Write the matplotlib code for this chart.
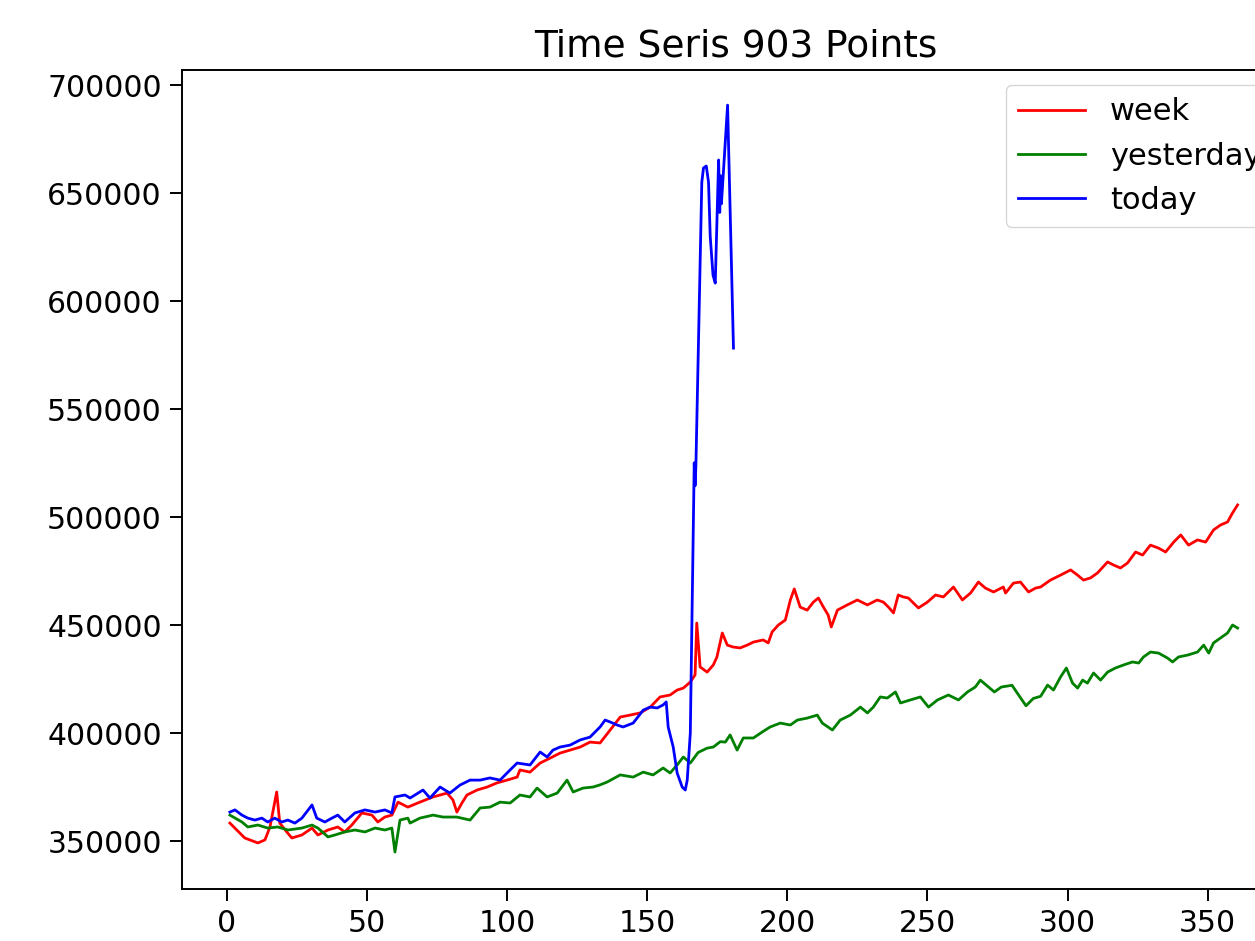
import numpy as np
import matplotlib
matplotlib.use("Agg")
import matplotlib.pyplot as plt

# values (y in thousands)
week_x = [1.1, 6.4, 11.1, 13.6, 15.4, 17.8, 18.9, 21.4, 23.2, 26.8,
          30.4, 32.5, 36.1, 39.6, 42.1, 44.6, 48.2, 51.8, 53.9, 56.4,
          58.9, 61.1, 64.6, 68.9, 73.6, 78.6, 80.7, 82.1, 83.9, 85.7,
          89.3, 92.9, 96.4, 100, 103.6, 104.6, 108.2, 111.8, 115.4, 118.9,
          122.5, 126.1, 129.6, 133.2, 136.8, 140.4, 143.9, 147.5, 151.1, 154.6,
          158.2, 160.7, 162.9, 165.4, 167.1, 167.7, 168.9, 171.4, 173.6, 174.9,
          176.8, 178.6, 180.7, 183.2, 185.7, 187.9, 191.4, 193.2, 194.6, 196.8,
          199.3, 201.1, 202.5, 204.6, 207.1, 209.3, 211.1, 212.9, 214.6, 215.7,
          217.9, 221.4, 225, 228.6, 232.1, 234.3, 236.1, 237.9, 239.6, 241.4,
          243.2, 246.8, 250, 252.9, 255.7, 259.3, 262.5, 265.4, 268.2, 270.7,
          273.6, 277.1, 277.9, 280.7, 283.2, 286.1, 288.6, 290.4, 293.9, 297.5,
          301.1, 303.6, 305.7, 308.2, 310.7, 314.3, 316.4, 318.9, 321.4, 324.3,
          326.8, 329.6, 332.5, 335, 337.9, 340.4, 343.2, 346.4, 349.3, 352.1,
          354.6, 357.1, 358.9, 360.7]
week_y = [358.3, 351.4, 349.1, 350.5, 356.5, 372.7, 358.3, 354.2, 351.4, 352.8,
          356, 352.8, 355.1, 356.5, 354.2, 357.4, 363, 362, 358.8, 361.1,
          362, 368, 365.7, 368, 370.4, 372.2, 369, 363.4, 367.6, 371.3,
          373.6, 375, 376.9, 378.2, 379.6, 382.9, 381.9, 386.1, 388.4, 390.7,
          392.1, 393.5, 395.8, 395.4, 401.4, 407.4, 408.3, 409.3, 412, 416.7,
          417.6, 419.9, 420.8, 423.6, 426.9, 450.9, 430.6, 428.2, 431.5, 435.2,
          446.3, 440.7, 439.8, 439.4, 440.7, 442.1, 443.1, 441.7, 446.8, 450,
          452.3, 461.6, 466.7, 458.3, 456.9, 460.6, 462.5, 458.3, 454.6, 449.1,
          456.9, 459.3, 461.6, 459.3, 461.6, 460.6, 458.3, 455.6, 463.9, 463,
          462.5, 457.9, 460.6, 463.9, 463, 467.6, 461.6, 464.8, 469.9, 467.1,
          465.3, 467.6, 464.8, 469.4, 469.9, 465.3, 467.1, 467.6, 470.8, 473.1,
          475.5, 473.1, 470.8, 471.8, 474.1, 479.2, 477.8, 476.4, 478.7, 483.8,
          482.4, 487, 485.6, 483.8, 488.4, 491.7, 487, 489.4, 488.4, 494,
          496.3, 497.7, 501.9, 505.6]

yesterday_x = [1.1, 5.4, 7.5, 11.1, 14.6, 18.2, 21.8, 26.8, 30.4, 32.5,
               36.1, 38.6, 42.1, 45.7, 49.3, 52.9, 56.4, 58.9, 60, 61.8,
               64.6, 65.4, 68.9, 73.6, 77.1, 82.1, 86.8, 90.4, 93.9, 97.5,
               101.1, 104.6, 108.2, 110.7, 114.3, 117.9, 121.4, 123.6, 127.1, 130.7,
               133.2, 135.7, 140.4, 145, 148.6, 152.1, 155.7, 158.2, 160.7, 162.9,
               165.4, 168.2, 171.4, 173.6, 176.1, 177.9, 179.6, 182.1, 184.3, 187.9,
               191.1, 193.9, 197.5, 201.1, 203.6, 207.1, 210.7, 212.5, 216.1, 218.9,
               222.5, 226.1, 228.6, 230.7, 233.2, 235.7, 238.6, 240.4, 243.9, 247.5,
               250.4, 253.6, 257.5, 261.1, 264.3, 267.1, 268.9, 273.9, 276.4, 280.2,
               282.7, 285.2, 287.8, 290.4, 292.9, 295, 297.5, 299.6, 301.8, 303.6,
               305.4, 307.1, 309.3, 311.8, 314.3, 317.1, 320, 323.2, 325.4, 327.1,
               329.6, 332.5, 335.7, 337.5, 339.6, 342.9, 346.4, 348.6, 350.4, 352.1,
               354.6, 357.1, 358.9, 360.7]
yesterday_y = [362, 358.8, 356.5, 357.4, 356, 356.5, 355.1, 356, 357.4, 356,
               351.9, 352.8, 354.2, 355.1, 354.2, 356, 355.1, 356, 344.9, 359.7,
               360.6, 358.3, 360.6, 362, 361.1, 361.1, 359.7, 365.3, 365.7, 368,
               367.6, 371.3, 370.4, 374.5, 370.4, 372.2, 378.2, 372.7, 374.5, 375,
               376, 377.3, 380.6, 379.6, 381.9, 380.6, 383.8, 381.5, 385.2, 388.9,
               386.1, 391, 393, 393.5, 396, 395.8, 399.1, 392.1, 397.7, 397.7,
               400.5, 402.8, 404.6, 403.7, 406, 406.9, 408.3, 404.6, 401.4, 406,
               408.3, 412, 409.3, 412, 416.7, 416.2, 419, 413.9, 415.3, 416.7,
               412, 415.3, 417.6, 415.3, 419, 421.3, 424.5, 419, 421.3, 422.1,
               417.3, 412.6, 416, 417, 422.2, 419.9, 425.9, 430.1, 423.1, 420.8,
               424.5, 423.1, 427.8, 424.5, 428.2, 430.1, 431.5, 432.9, 432.4, 435.2,
               437.5, 437, 434.7, 432.9, 435.2, 436.1, 437.5, 440.7, 437, 441.7,
               444, 446.3, 450, 448.6]

today_x = [1.1, 2.9, 5.4, 7.5, 10, 12.5, 14.6, 17.1, 19.6, 21.8,
           24.3, 26.8, 30.4, 32.1, 35, 37.5, 39.6, 42.1, 45.7, 49.3,
           52.9, 56.4, 58.9, 60, 63.6, 65.4, 70, 72.5, 76.1, 79.6,
           83.2, 86.8, 90.4, 93.9, 97.5, 101.1, 103.6, 108.2, 111.8, 114.3,
           116.4, 118.9, 122.5, 126.1, 129.6, 133.2, 135, 136.8, 139.3, 141.4,
           145, 148.6, 151.1, 153.6, 155.7, 156.8, 157.5, 159.3, 160.7, 162.5,
           163.6, 164.3, 165.4, 166.8, 167.1, 167.4, 169.5, 170.1, 171.1, 171.9,
           172.5, 173.5, 174.3, 175.5, 175.9, 176.2, 176.5, 178.7, 180.8]
today_y = [363.4, 364.4, 362, 360.6, 359.7, 360.6, 358.8, 360.6, 358.8, 359.7,
           358.3, 360.6, 366.7, 360.6, 358.8, 360.6, 362, 358.8, 363, 364.4,
           363.4, 364.4, 363, 370.4, 371.3, 369.9, 373.6, 369.9, 375, 372.2,
           375.9, 378.2, 378.2, 379.2, 378.2, 382.9, 386.1, 385.2, 391.2, 388.9,
           392.1, 393.5, 394.4, 396.8, 398.1, 402.8, 406, 405.1, 403.7, 402.8,
           404.6, 410.6, 412, 411.6, 413, 414.4, 402.8, 393.5, 381.5, 375,
           373.6, 378.2, 400, 525.1, 514.5, 524, 655, 661.6, 662.5, 655,
           630, 612, 608.3, 665.3, 641, 658, 645, 690.7, 578.2]

series = [("week", week_x, week_y, "r"),
          ("yesterday", yesterday_x, yesterday_y, "g"),
          ("today", today_x, today_y, "b")]

fig = plt.figure(figsize=(12.55, 9.41), dpi=100)
# axes runs past the right edge, like the cropped original
ax = fig.add_axes([0.145, 0.0553, 0.882, 0.8704])

for name, xs, ys, c in series:
    ax.plot(xs, np.array(ys) * 1000, color=c, linewidth=2.0, label=name)

ax.set_xlim(-16, 379)
ax.set_ylim(327800, 707000)
ax.set_xticks([0, 50, 100, 150, 200, 250, 300, 350])
ax.set_yticks([350000, 400000, 450000, 500000, 550000, 600000, 650000, 700000])
ax.tick_params(labelsize=21.5, length=8.5, width=1.4, pad=6)
for s in ax.spines.values():
    s.set_linewidth(1.4)

ax.set_title("Time Seris 903 Points", fontsize=27, pad=10)
ax.legend(loc="upper right", fontsize=22, handlelength=2.2)

fig.savefig("out.png", dpi=100)
